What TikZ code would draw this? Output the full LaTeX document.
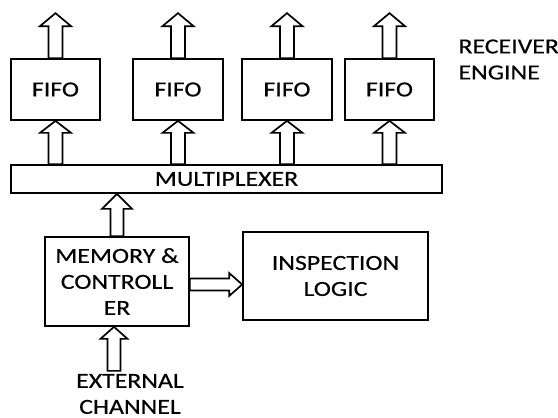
\documentclass[tikz,border=0pt]{standalone}
\usepackage{fontspec}
\setmainfont{Carlito}[FakeStretch=1.2,FakeBold=0.4]
\usepackage{tikz}
\usetikzlibrary{calc}

% hollow block arrow: from, to, half shaft, half head, head length
\newcommand{\fatarrow}[5]{%
  \coordinate (hb) at ($(#2)!#5pt!(#1)$);
  \draw[fatline] ($(#1)!#3pt!90:(#2)$) -- ($(hb)!#3pt!90:(#2)$)
    -- ($(hb)!#4pt!90:(#2)$) -- (#2) -- ($(hb)!#4pt!-90:(#2)$)
    -- ($(hb)!#3pt!-90:(#2)$) -- ($(#1)!#3pt!-90:(#2)$) -- cycle;}

\begin{document}
\begin{tikzpicture}[x=1pt,y=-1pt,
    font=\fontsize{21.5}{26}\selectfont,
    blk/.style={draw,line width=1.7pt,inner sep=0pt,align=center},
    fatline/.style={line width=1.7pt,fill=white,line join=miter}]
  \useasboundingbox (0,0) rectangle (558,418);

  \node[blk,minimum width=89pt,minimum height=61pt] (fifo1) at (55.5,89.5) {FIFO};
  \node[blk,minimum width=90pt,minimum height=61pt] (fifo2) at (178,89.5) {FIFO};
  \node[blk,minimum width=90pt,minimum height=61pt] (fifo3) at (287,89.5) {FIFO};
  \node[blk,minimum width=89pt,minimum height=61pt] (fifo4) at (389.5,89.5) {FIFO};

  \node[blk,minimum width=431pt,minimum height=28pt] (mux) at (226.5,179) {MULTIPLEXER};

  \node[blk,minimum width=144pt,minimum height=89pt] (mem) at (117,281.5)
    {MEMORY \&\\CONTROLL\\ER};
  \node[blk,minimum width=185pt,minimum height=88pt] (insp) at (335.5,276)
    {INSPECTION\\LOGIC};

  \node[anchor=west,align=left] (rx) at (455,59.5) {RECEIVER\\ENGINE};
  \node[align=center] (ext) at (130,394) {EXTERNAL\\CHANNEL};

  % outputs and inputs of the fifos
  \foreach \i in {1,...,4} {
    \coordinate (out\i) at ($(fifo\i.north)+(0,-45)$);
    \fatarrow{fifo\i.north}{out\i}{7}{15.5}{13}
    \coordinate (in\i) at (mux.north -| fifo\i.south);
    \fatarrow{in\i}{fifo\i.south}{7}{15.5}{12}
  }

  \coordinate (memup) at (mux.south -| mem.north);
  \fatarrow{mem.north}{memup}{6.5}{15}{15}

  \coordinate (chin) at ($(mem.south)+(-3,44)$);
  \coordinate (chtip) at (mem.south -| chin);
  \fatarrow{chin}{chtip}{6.5}{13.5}{12}

  \coordinate (hx) at ($(mem.east)+(0,3)$);
  \coordinate (hy) at (insp.west |- hx);
  \fatarrow{hx}{hy}{6}{11.5}{13}
\end{tikzpicture}
\end{document}
